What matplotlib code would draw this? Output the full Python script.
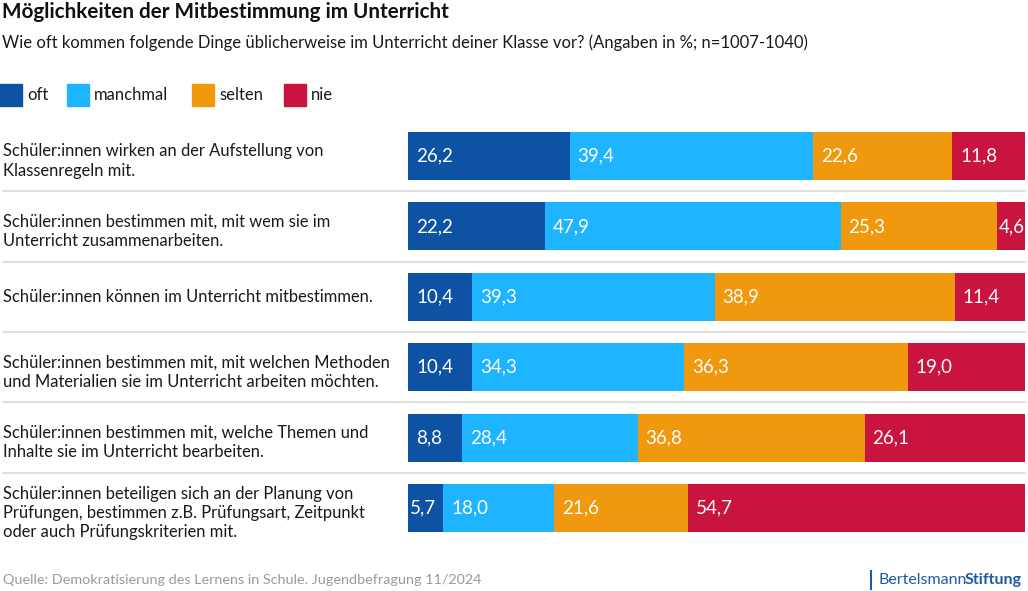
import matplotlib.pyplot as plt
import matplotlib.transforms as mtransforms
import numpy as np

plt.rcParams['font.family'] = ['Lato', 'DejaVu Sans']

# data
categories = [
    "Schüler:innen wirken an der Aufstellung von\nKlassenregeln mit.",
    "Schüler:innen bestimmen mit, mit wem sie im\nUnterricht zusammenarbeiten.",
    "Schüler:innen können im Unterricht mitbestimmen.",
    "Schüler:innen bestimmen mit, mit welchen Methoden\nund Materialien sie im Unterricht arbeiten möchten.",
    "Schüler:innen bestimmen mit, welche Themen und\nInhalte sie im Unterricht bearbeiten.",
    "Schüler:innen beteiligen sich an der Planung von\nPrüfungen, bestimmen z.B. Prüfungsart, Zeitpunkt\noder auch Prüfungskriterien mit.",
]
series = ["oft", "manchmal", "selten", "nie"]
oft = [26.2, 22.2, 10.4, 10.4, 8.8, 5.7]
manchmal = [39.4, 47.9, 39.3, 34.3, 28.4, 18.0]
selten = [22.6, 25.3, 38.9, 36.3, 36.8, 21.6]
nie = [11.8, 4.6, 11.4, 19.0, 26.1, 54.7]

colors = ["#0D52A3", "#1FB4FF", "#F0990F", "#C8143F"]

W, H = 1028, 591
fig = plt.figure(figsize=(W / 100, H / 100), dpi=100)

# bar area in pixels
left, right = 408, 1025
top, bottom = 120.8, 543.2
ax = fig.add_axes([left / W, 1 - bottom / H, (right - left) / W, (bottom - top) / H])
ax.set_xlim(0, 100)
ax.set_ylim(5.5, -0.5)
ax.axis("off")

y = np.arange(len(categories))
start = np.zeros(len(categories))
for vals, col in zip([oft, manchmal, selten, nie], colors):
    vals = np.array(vals)
    ax.barh(y, vals, left=start, height=0.68, color=col, edgecolor="none")
    for yi, s, v in zip(y, start, vals):
        off = 1.3 if v >= 6 else 0.3   # tiny segments get a small pad
        ax.text(s + off, yi, f"{v:.1f}".replace(".", ","), color="white",
                fontsize=13.5, va="center", ha="left")
    start += vals

# category labels and separators
trans = mtransforms.blended_transform_factory(fig.transFigure, ax.transData)
for yi, cat in zip(y, categories):
    shift = 0.07 if "\n" in cat else 0
    ax.text(3 / W, yi + shift, cat, transform=trans, fontsize=11.9, va="center",
            ha="left", color="#1a1a1a", linespacing=1.25)
for yi in y[:-1]:
    ax.plot([3 / W, 1025 / W], [yi + 0.5, yi + 0.5], transform=trans,
            color="#d9d9d9", lw=1.2, clip_on=False)

# title and subtitle
fig.text(2 / W, 1 - 12 / H, "Möglichkeiten der Mitbestimmung im Unterricht",
         fontsize=14.85, fontweight="bold", va="center", ha="left", color="#111111")
fig.text(2 / W, 1 - 43 / H,
         "Wie oft kommen folgende Dinge üblicherweise im Unterricht deiner Klasse vor? (Angaben in %; n=1007-1040)",
         fontsize=11.95, va="center", ha="left", color="#1a1a1a")

# legend
leg_x = [0, 67, 192, 284]
for lx, name, col in zip(leg_x, series, colors):
    fig.patches.append(plt.Rectangle((lx / W, 1 - 106 / H), 22 / W, 22 / H,
                                     transform=fig.transFigure, color=col))
    fig.text((lx + 27) / W, 1 - 95.5 / H, name, fontsize=12.0, va="center",
             ha="left", color="#1a1a1a")

# footer
fig.text(3 / W, 1 - 580 / H,
         "Quelle: Demokratisierung des Lernens in Schule. Jugendbefragung 11/2024",
         fontsize=10.4, va="center", ha="left", color="#9a9a9a")
fig.add_artist(plt.Line2D([871 / W, 871 / W], [1 - 589 / H, 1 - 571 / H],
                          color="#1d5aa8", lw=1.5))
t = fig.text(879 / W, 1 - 580 / H, "Bertelsmann", fontsize=11.5,
             va="center", ha="left", color="#1d5aa8")
fig.canvas.draw()
bb = t.get_window_extent()
fig.text((bb.x1 - 2.5) / W, 1 - 580 / H, "Stiftung", fontsize=11.5, fontweight="bold",
         va="center", ha="left", color="#1d5aa8")

fig.savefig("out.png", dpi=100)
